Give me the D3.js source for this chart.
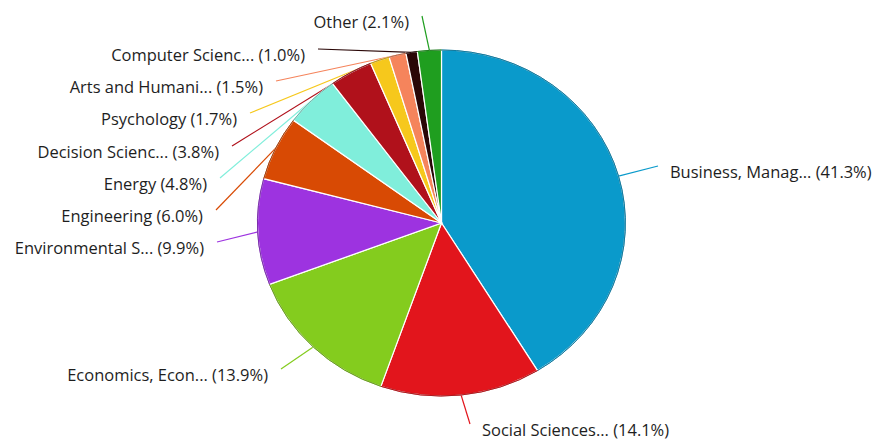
<!DOCTYPE html>
<html>
<head>
<meta charset="utf-8">
<script src="https://cdn.jsdelivr.net/npm/d3@7"></script>
<style>
  html, body { margin: 0; padding: 0; background: #fff; }
  svg { display: block; }
  .lbl { font-family: "Open Sans", "Noto Sans", sans-serif; font-size: 15.5px; fill: #1e1e1e; }
</style>
</head>
<body>
<svg id="chart" width="874" height="441"></svg>
<script>
// Subject areas and their share of documents (%)
const categories = [
  "Business, Manag...", "Social Sciences...", "Economics, Econ...", "Environmental S...",
  "Engineering", "Energy", "Decision Scienc...", "Psychology",
  "Arts and Humani...", "Computer Scienc...", "Other"
];
const shares = [41.3, 14.1, 13.9, 9.9, 6.0, 4.8, 3.8, 1.7, 1.5, 1.0, 2.1];
const colors = [
  "#0a9acb", "#e2151c", "#84cc1e", "#9d33e0",
  "#d84a04", "#80eedb", "#b0111b", "#f6c81c",
  "#f5845c", "#2a0707", "#1f9e1f"
];

// Label placement: side of the pie and anchor point of each label
const labelSide = ["start", "start", "end", "end", "end", "end", "end", "end", "end", "end", "end"];
const labelX = [670, 482, 268, 204, 203, 207, 219, 237, 263, 305, 409];
const labelY = [172, 430, 375, 248, 216, 184, 152, 119, 87, 55, 22];

const svg = d3.select("#chart");
const cx = 441.5, cy = 223, r = 173, sx = 1.063;

const pie = d3.pie().sort(null).value(d => d.value);
const data = categories.map((c, i) => ({ name: c, value: shares[i], color: colors[i], i }));
const arcs = pie(data);
const arc = d3.arc().innerRadius(0).outerRadius(r);

// Connector lines from the middle of each slice's rim to its label
const edgePoint = d => {
  const a = (d.startAngle + d.endAngle) / 2;
  return [cx + sx * r * Math.sin(a), cy - r * Math.cos(a)];
};
const linkEnd = d => {
  const i = d.data.i;
  const dx = labelSide[i] === "end" ? 13 : -12;
  return [labelX[i] + dx, labelY[i] - 6];
};
svg.selectAll("path.link")
  .data(arcs)
  .join("path")
  .attr("class", "link")
  .attr("d", d => d3.line()([edgePoint(d), linkEnd(d)]))
  .attr("fill", "none")
  .attr("stroke", d => d.data.color)
  .attr("stroke-width", 1.2);

const g = svg.append("g").attr("transform", `translate(${cx},${cy}) scale(${sx},1)`);
g.selectAll("path.slice")
  .data(arcs)
  .join("path")
  .attr("class", "slice")
  .attr("d", arc)
  .attr("fill", d => d.data.color)
  .attr("stroke", "#fff")
  .attr("stroke-width", 1.2)
  .attr("vector-effect", "non-scaling-stroke");

// Outer rim drawn slightly darker than each slice
const rim = d3.arc().innerRadius(r).outerRadius(r);
g.selectAll("path.rim")
  .data(arcs)
  .join("path")
  .attr("class", "rim")
  .attr("d", rim)
  .attr("fill", "none")
  .attr("stroke", d => d3.color(d.data.color).darker(0.8))
  .attr("stroke-width", 0.8)
  .attr("vector-effect", "non-scaling-stroke");

// Labels, widened to the same horizontal scale as the pie
const lg = svg.append("g").attr("transform", `scale(${sx},1)`);
lg.selectAll("text.lbl")
  .data(arcs)
  .join("text")
  .attr("class", "lbl")
  .attr("x", d => labelX[d.data.i] / sx)
  .attr("y", d => labelY[d.data.i])
  .attr("dominant-baseline", "central")
  .attr("text-anchor", d => labelSide[d.data.i])
  .text(d => `${d.data.name} (${d.data.value.toFixed(1)}%)`);
</script>
</body>
</html>
